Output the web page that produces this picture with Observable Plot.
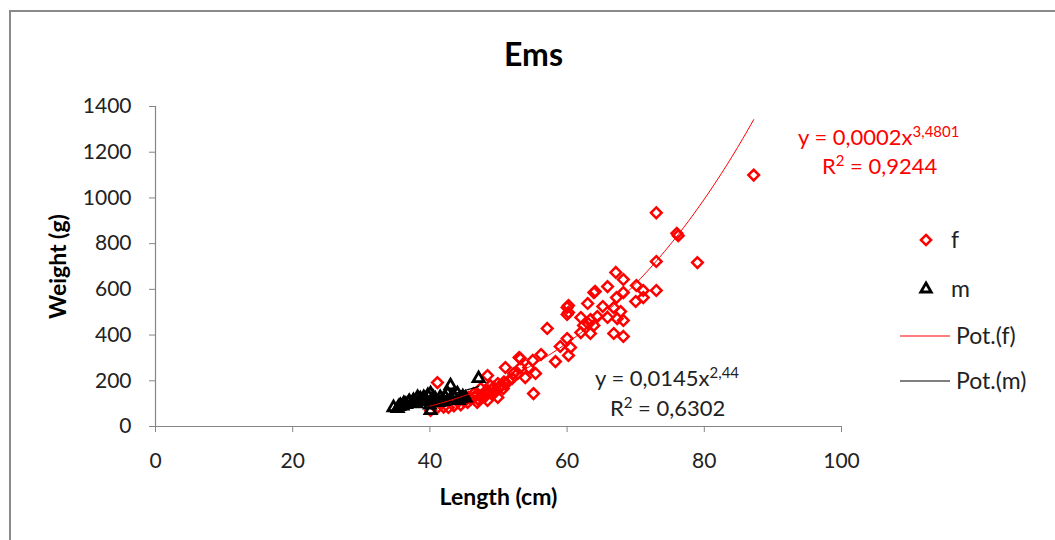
<!DOCTYPE html>
<html>
<head>
<meta charset="utf-8">
<script src="https://cdn.jsdelivr.net/npm/d3@7"></script>
<script src="https://cdn.jsdelivr.net/npm/@observablehq/plot@0.6"></script>
<style>
  body { margin: 0; background: #fff; }
  #wrap { position: relative; width: 1055px; height: 540px; overflow: hidden; font-family: Lato, "Open Sans", sans-serif; color: #222; }
  #frame { position: absolute; left: 9px; top: 10px; width: 1200px; height: 800px; border: 2px solid #8a8a8a; box-sizing: border-box; }
  #chart { position: absolute; left: 0; top: 0; }
  .ov { position: absolute; white-space: nowrap; line-height: 1; transform: translateY(-50%); }
  .ov sup { font-size: 0.68em; vertical-align: 0.55em; line-height: 0; }
</style>
</head>
<body>
<div id="wrap">
  <div id="frame"></div>
  <div id="chart"></div>
  <div class="ov" style="left:798px;top:137px;font-size:22px;color:#ff0000">y = 0,0002x<sup>3,4801</sup></div>
  <div class="ov" style="left:822px;top:166px;font-size:22px;color:#ff0000">R<sup>2</sup> = 0,9244</div>
  <div class="ov" style="left:595px;top:378px;font-size:22px;color:#222">y = 0,0145x<sup>2,44</sup></div>
  <div class="ov" style="left:610px;top:408px;font-size:22px;color:#222">R<sup>2</sup> = 0,6302</div>
  <div id="legend"></div>
</div>
<script>
// Female (f) length (cm) and weight (g)
const fLength = [87.2, 73, 76, 76.2, 73, 79, 67.1, 68.2, 65.9, 70.1, 73, 71.1, 68.2, 63.9, 64.1, 67.2, 71.1, 70, 65.2, 66.8, 63, 60.2, 60, 67.8, 60.2, 60, 65.9, 67.3, 68.2, 62, 63.4, 64.4, 62.4, 63.9, 63.1, 57.1, 62, 63.4, 66.8, 68.2, 60, 59, 60.5, 60.2, 56.2, 58.3, 55, 53.2, 53, 51, 53.2, 54.4, 55.4, 52.8, 52.2, 53.9, 55.1, 48.4, 49.9, 48.8, 47.4, 50.7, 46.4, 49.9, 46.9, 48.4, 41.1, 44.2, 42.7, 40.1, 45.6, 49.3, 50.5, 47.5, 45.5, 45, 46, 46.5, 47, 48, 48.5, 49, 49.5, 50, 51, 47, 48, 44.5, 43.5, 42, 41, 51.5, 52, 50.8];
const fWeight = [1100, 935, 845, 835, 722, 717, 674, 643, 612, 617, 595, 595, 586, 586, 591, 564, 564, 547, 525, 520, 538, 529, 521, 503, 499, 490, 477, 472, 464, 477, 468, 481, 442, 442, 450, 429, 411, 407, 407, 394, 385, 350, 346, 311, 315, 284, 289, 297, 302, 258, 258, 258, 232, 232, 232, 214, 144, 223, 188, 179, 166, 166, 144, 127, 105, 114, 192, 114, 83, 70, 127, 171, 180, 127, 105, 110, 120, 130, 140, 150, 155, 160, 150, 170, 185, 120, 130, 95, 90, 85, 80, 200, 210, 195];
// Male (m) length (cm) and weight (g)
const mLength = [34.7, 35.3, 35.7, 36.2, 36.9, 37.5, 37.6, 38.2, 38.6, 39.1, 39.7, 40.1, 40.1, 40.5, 41.3, 41.5, 42.6, 43, 44, 44.2, 44.5, 47.1, 36, 38, 39, 40, 42, 43, 35.5, 36.5, 37, 38.4, 39.4, 40.8, 41.8, 42.2, 43.4, 44.8, 45.2];
const mWeight = [83, 79, 92, 101, 105, 105, 114, 127, 122, 127, 136, 144, 70, 127, 105, 127, 144, 179, 144, 114, 122, 210, 90, 100, 110, 95, 110, 120, 88, 97, 110, 112, 118, 120, 115, 130, 135, 130, 125];
// Power trendlines y = a * x^b (Excel "Pot."), and the length span each covers
const fitSeries = ["f", "m"];
const fitA = [0.000237, 0.0145];
const fitB = [3.4801, 2.44];
const fitFrom = [40, 34.7];
const fitTo = [87.2, 47.1];
const xTicks = [0, 20, 40, 60, 80, 100];
const yTicks = [0, 200, 400, 600, 800, 1000, 1200, 1400];

const fData = fLength.map((x, i) => ({x, y: fWeight[i]}));
const mData = mLength.map((x, i) => ({x, y: mWeight[i]}));
const curves = fitSeries.map((s, k) =>
  d3.range(fitFrom[k], fitTo[k] + 1e-9, (fitTo[k] - fitFrom[k]) / 120)
    .map(x => ({x, y: fitA[k] * Math.pow(x, fitB[k])})));

const axisGray = "#868686";
const font = "Lato, 'Open Sans', sans-serif";
const chart = Plot.plot({
  width: 1055, height: 540,
  marginLeft: 155, marginRight: 214, marginTop: 106, marginBottom: 114,
  x: {domain: [0, 100]},
  y: {domain: [0, 1400]},
  style: {fontFamily: font, fontSize: "21px", color: "#222", background: "transparent", overflow: "visible"},
  marks: [
    Plot.axisX({ticks: xTicks, tickFormat: d => String(d), tickSize: 6, tickPadding: 21, stroke: axisGray, fill: "#222", label: null, fontSize: 21}),
    Plot.axisY({ticks: yTicks, tickFormat: d => String(d), tickSize: 6, tickPadding: 18, stroke: axisGray, fill: "#222", label: null, fontSize: 21}),
    Plot.ruleX([0], {stroke: axisGray, strokeWidth: 1.2}),
    Plot.ruleY([0], {stroke: axisGray, strokeWidth: 1.2}),
    Plot.dot(fData, {x: "x", y: "y", symbol: "diamond2", r: 4.8, stroke: "#ff0000", strokeWidth: 2.5}),
    Plot.dot(mData, {x: "x", y: "y", symbol: "triangle2", r: 5.3, stroke: "#000", strokeWidth: 2.8}),
    Plot.line(curves[0], {x: "x", y: "y", stroke: "#ff0000", strokeWidth: 1}),
    Plot.line(curves[1], {x: "x", y: "y", stroke: "#000", strokeWidth: 1.2}),
    Plot.text(["Ems"], {frameAnchor: "top", textAnchor: "middle", lineAnchor: "middle", dx: 35, dy: -51, fontSize: 32, fontWeight: "bold", fill: "#000"}),
    Plot.text(["Length (cm)"], {frameAnchor: "bottom", textAnchor: "middle", lineAnchor: "middle", dy: 71, fontSize: 23, fontWeight: "bold", fill: "#000"}),
    Plot.text(["Weight (g)"], {frameAnchor: "left", textAnchor: "middle", lineAnchor: "middle", dx: -97, rotate: -90, fontSize: 23, fontWeight: "bold", fill: "#000"})
  ]
});
document.getElementById("chart").appendChild(chart);

// Legend
const legendItems = [
  {label: "f", kind: "symbol", symbol: d3.symbolDiamond2, color: "#ff0000", r: 4.6, sw: 2.5, cy: 240},
  {label: "m", kind: "symbol", symbol: d3.symbolTriangle2, color: "#000", r: 5.0, sw: 2.8, cy: 289},
  {label: "Pot.(f)", kind: "line", color: "#ff0000", cy: 336},
  {label: "Pot.(m)", kind: "line", color: "#000", cy: 381}
];
const lsvg = d3.select("#legend").append("svg").attr("width", 1055).attr("height", 540)
  .style("position", "absolute").style("left", 0).style("top", 0);
legendItems.forEach(it => {
  if (it.kind === "symbol") {
    lsvg.append("path").attr("d", d3.symbol(it.symbol, Math.PI * it.r * it.r)())
      .attr("transform", `translate(926,${it.cy})`)
      .attr("fill", "none").attr("stroke", it.color).attr("stroke-width", it.sw);
    lsvg.append("text").attr("x", 951).attr("y", it.cy).attr("dy", "0.35em")
      .attr("font-family", font).attr("font-size", 23).attr("fill", "#222").text(it.label);
  } else {
    lsvg.append("line").attr("x1", 900).attr("x2", 950).attr("y1", it.cy).attr("y2", it.cy)
      .attr("stroke", it.color).attr("stroke-width", 1.2);
    lsvg.append("text").attr("x", 956).attr("y", it.cy).attr("dy", "0.35em")
      .attr("font-family", font).attr("font-size", 23).attr("fill", "#222").text(it.label);
  }
});
</script>
</body>
</html>
